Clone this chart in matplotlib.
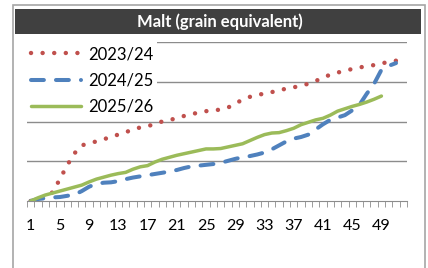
import matplotlib.pyplot as plt
from matplotlib.patches import Rectangle
import numpy as np

plt.rcParams['font.family'] = ['Lato', 'DejaVu Sans']

# weekly cumulative values (grid step = 100)
weeks = np.arange(1, 53)
tick_labels = [str(w) for w in range(1, 53, 4)]

s2023 = [0, 5, 10, 22, 55, 90, 120, 140, 145, 150, 155, 162, 167, 173, 180, 185,
         188, 194, 200, 204, 208, 214, 219, 222, 226, 228, 230, 235, 245, 255, 262,
         267, 270, 274, 278, 283, 286, 290, 295, 302, 310, 318, 323, 328, 332, 336,
         339, 342, 346, 350, 353, 356]
s2024 = [0, 5, 7, 9, 10, 13, 16, 25, 36, 43, 46, 47, 50, 55, 59, 62, 65, 68, 71,
         74, 78, 83, 87, 89, 91, 93, 96, 101, 106, 110, 113, 117, 122, 130, 140, 150,
         157, 161, 167, 180, 193, 204, 210, 216, 228, 242, 270, 295, 330, 340, 347]
s2025 = [0, 8, 15, 20, 25, 30, 35, 40, 48, 55, 60, 65, 69, 72, 80, 86, 89, 98, 105,
         110, 115, 119, 123, 127, 131, 131, 132, 136, 140, 144, 152, 160, 167, 171,
         172, 177, 183, 192, 198, 204, 208, 216, 226, 232, 238, 243, 249, 256, 264]

labels = ["2023/24", "2024/25", "2025/26"]
colors = ["#C0504D", "#4F81BD", "#9BBB59"]

W, H = 428, 268
fig = plt.figure(figsize=(W / 100, H / 100), dpi=100, facecolor="white")

# outer border and title bar
fig.patches.append(Rectangle((13 / W, -0.05), 412 / W, 1.05 - 5 / H, transform=fig.transFigure,
                             facecolor="none", edgecolor="#A6A6A6", lw=1.2, zorder=0))
fig.patches.append(Rectangle((15 / W, 1 - 34 / H), 406 / W, 25 / H, transform=fig.transFigure,
                             facecolor="#404040", edgecolor="none", zorder=0))
fig.text(220 / W, 1 - 21.5 / H, "Malt (grain equivalent)", color="white",
         fontsize=12, fontweight="bold", ha="center", va="center")

ax = fig.add_axes([27 / W, 1 - 201 / H, 380 / W, 159 / H])
ax.set_zorder(2)
ax.set_facecolor("none")

ax.plot(weeks[:len(s2023)], s2023, color=colors[0], lw=3.2,
        linestyle=(0, (0.01, 2.6)), dash_capstyle="round", label=labels[0], zorder=3)
ax.plot(weeks[:len(s2024)], s2024, color=colors[1], lw=2.9,
        linestyle=(0, (3.2, 3.0)), dash_capstyle="round", label=labels[1], zorder=3)
ax.plot(weeks[:len(s2025)], s2025, color=colors[2], lw=2.5,
        solid_capstyle="round", label=labels[2], zorder=4)

ax.set_xlim(0.5, 52.5)
ax.set_ylim(0, 400)
for g in [100, 200, 300, 400]:
    ax.axhline(g, color="#8C8C8C", lw=1, zorder=1)

ax.set_yticks([])
ax.set_xticks(range(1, 53, 4))
ax.set_xticklabels(tick_labels, fontsize=11.5)
ax.set_xticks(np.arange(0.5, 53, 1), minor=True)
ax.tick_params(axis="x", which="major", length=0, pad=13)
ax.tick_params(axis="x", which="minor", length=4, color="#8C8C8C", direction="out")
for side in ["top", "right", "left"]:
    ax.spines[side].set_visible(False)
ax.spines["bottom"].set_color("#8C8C8C")

leg = ax.legend(loc="upper left", bbox_to_anchor=(0, 1.0), fontsize=12, frameon=True,
                facecolor="white", edgecolor="none", framealpha=1, fancybox=False,
                handlelength=3.0, handletextpad=0.4, labelspacing=0.62,
                borderaxespad=0, borderpad=0.25)
leg.set_zorder(5)

plt.savefig("out.png", dpi=100)
plt.close()
